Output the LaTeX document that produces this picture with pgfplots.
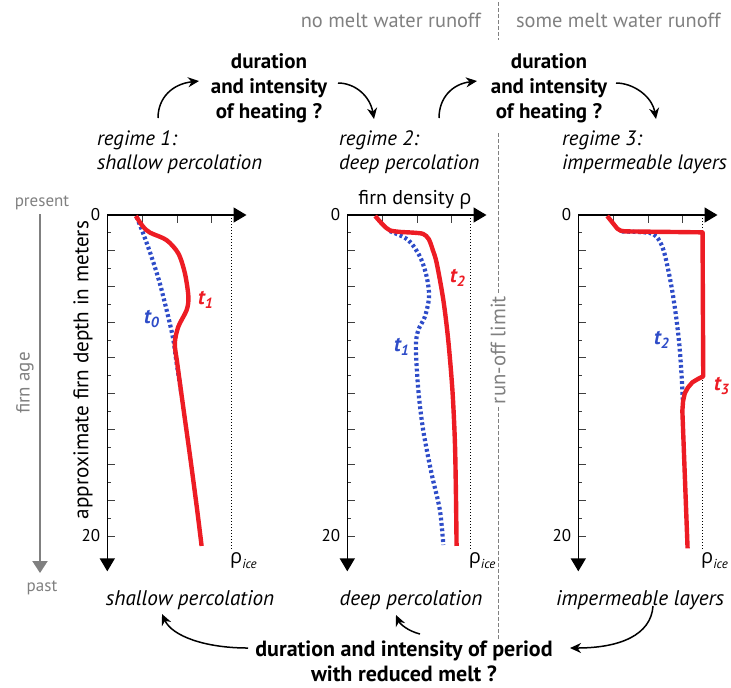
\documentclass[border=0pt]{standalone}
\usepackage{fontspec}
\setmainfont{PT Sans}
\newfontfamily\grk{Open Sans}
\usepackage{pgfplots}
\pgfplotsset{compat=1.18}
\usetikzlibrary{arrows.meta}

\definecolor{cred}{RGB}{237,28,36}
\definecolor{cblue}{RGB}{46,76,200}
\definecolor{cgray}{RGB}{128,128,128}
\newcommand{\fs}[1]{\fontsize{#1}{#1}\selectfont}
\newcommand{\rhoice}{{\fs{10}\grk ρ}\raisebox{-0.5ex}{\fs{6.5}\itshape ice}}

% one panel = one depth profile, depth axis pointing down
\pgfplotsset{
  panel/.style={
    anchor=origin,
    x=17.4pt, y=8.025pt, y dir=reverse,
    xmin=0, xmax=4, ymin=0, ymax=22.2,
    axis x line*=top, axis y line*=left,
    axis line style={line width=0.8pt, -{Triangle[length=6.5pt,width=7.5pt]}},
    clip=false,
    tick align=inside,
    xtick={1,2,3}, xticklabels={},
    ytick={0,2.2222,4.4444,6.6667,8.8889,11.1111,13.3333,15.5556,17.7778,20},
    yticklabels={0,,,,,,,,,20},
    minor ytick={1.1111,3.3333,5.5556,7.7778,10,12.2222,14.4444,16.6667,18.8889},
    major tick length=4pt, minor tick length=2pt,
    tick style={line width=0.35pt, black!75},
    yticklabel style={font=\fs{8.5}},
  },
  old/.style={cblue, line width=2.1pt, dash pattern=on 1.4pt off 1.3pt, smooth, tension=0.5},
  new/.style={cred, line width=2.2pt, smooth, tension=0.5, line join=round},
  ice/.style={black, densely dotted, line width=0.5pt},
}

\begin{document}
\begin{tikzpicture}[x=0.5pt,y=-0.5pt]
\path[use as bounding box] (0,0) rectangle (731,687);

% ---- regime 1
\begin{axis}[panel, at={(53.65pt,-107.5pt)}]
  \addplot[ice] coordinates {(3.57,0) (3.57,20.9)};
  \addplot[old] coordinates {(0.84,0.1) (1.03,1.14) (1.27,2.6) (1.51,4.26) (1.75,6.33) (1.90,7.79) (1.99,9.2) (2.12,11.0)};
  \addplot[new] coordinates {(0.82,0.06) (1.03,0.73) (1.23,1.10) (1.70,1.56) (2.04,2.39) (2.23,3.63) (2.33,5.09) (2.28,5.92) (2.04,6.96) (1.94,8.0) (2.01,9.24) (2.18,11.94) (2.38,15.06) (2.57,18.17) (2.71,20.62)};
  \node[anchor=north west, inner sep=0pt] at (axis cs:3.52,21.0) {\rhoice};
\end{axis}

% ---- regime 2
\begin{axis}[panel, at={(173.65pt,-107.5pt)}]
  \addplot[ice] coordinates {(3.53,0) (3.53,20.9)};
  \addplot[old] coordinates {(1.22,1.0) (1.75,1.56) (2.09,2.60) (2.28,3.84) (2.35,5.09) (2.23,6.33) (2.04,7.17) (1.97,8.20) (2.04,10.90) (2.18,13.40) (2.42,16.10) (2.66,18.38) (2.76,20.56)};
  \addplot[new] coordinates {(0.80,0.06) (1.03,0.62) (1.22,0.95) (1.50,1.05) (1.90,1.1) (2.18,1.18) (2.34,1.5) (2.46,2.2) (2.57,3.01) (2.76,5.30) (2.90,7.79) (3.02,10.90) (3.09,14.02) (3.12,17.13) (3.14,20.62)};
  \node[anchor=north west, inner sep=0pt] at (axis cs:3.48,21.0) {\rhoice};
\end{axis}

% ---- regime 3
\begin{axis}[panel, at={(289.15pt,-107.5pt)}]
  \addplot[ice] coordinates {(3.57,0) (3.57,20.9)};
  \addplot[old] coordinates {(1.25,1.02) (1.70,1.06) (2.06,1.12) (2.25,1.35) (2.40,1.9) (2.50,2.6) (2.62,3.8) (2.72,5.0) (2.82,6.5) (2.90,8.0) (2.95,9.4) (2.98,10.5) (3.0,11.5)};
  \addplot[cred, line width=2.2pt, line join=round] coordinates {(0.83,0.06) (1.12,0.85) (1.22,0.98) (1.35,1.02) (3.57,1.08) (3.59,10.05) (3.45,10.2) (3.28,10.42) (3.15,10.75) (3.06,11.1) (3.01,11.6) (2.99,12.2) (3.14,20.77)};
  \node[anchor=north west, inner sep=0pt] at (axis cs:3.52,21.0) {\rhoice};
\end{axis}

% ---- curve labels
\node[cred, font=\fs{10.5}\bfseries\itshape] at (206,300) {t\textsubscript{1}};
\node[cblue, font=\fs{10.5}\bfseries\itshape] at (152,319) {t\textsubscript{0}};
\node[cred, font=\fs{10.5}\bfseries\itshape] at (458,278) {t\textsubscript{2}};
\node[cblue, font=\fs{10.5}\bfseries\itshape] at (402,347) {t\textsubscript{1}};
\node[cblue, font=\fs{10.5}\bfseries\itshape] at (662,340) {t\textsubscript{2}};
\node[cred, font=\fs{10.5}\bfseries\itshape] at (722,386) {t\textsubscript{3}};

% ---- run-off limit
\node[cgray, font=\fs{10.2}, anchor=east] at (488,20) {no melt water runoff};
\node[cgray, font=\fs{10.2}, anchor=west] at (509,20) {some melt water runoff};
\draw[cgray, line width=0.5pt, dash pattern=on 2pt off 1pt] (498,2) -- (498,40);
\draw[cgray, line width=0.5pt, dash pattern=on 2pt off 1pt] (498,133) -- (498,294);
\draw[cgray, line width=0.5pt, dash pattern=on 2pt off 1pt] (498,407) -- (498,640);
\node[cgray, rotate=90, font=\fs{10.4}] at (498,350) {run-off limit};

% ---- top: regimes and heating
\node[font=\fontsize{10.5}{12.5}\selectfont\bfseries, align=center] at (269,88) {duration\\and intensity\\of heating ?};
\node[font=\fontsize{10.5}{12.5}\selectfont\bfseries, align=center] at (549,88) {duration\\and intensity\\of heating ?};
\node[anchor=west, font=\fontsize{10.4}{12}\selectfont\itshape, align=left] at (90,152) {regime 1:\\shallow percolation};
\node[anchor=west, font=\fontsize{10.4}{12}\selectfont\itshape, align=left] at (332,152) {regime 2:\\deep percolation};
\node[anchor=west, font=\fontsize{10.4}{12}\selectfont\itshape, align=left] at (555,152) {regime 3:\\impermeable layers};
\begin{scope}[line width=0.75pt, -{Stealth[length=5.5pt,width=5pt]}]
  \draw (158,118) .. controls (158,98) and (172,84) .. (199,81);
  \draw (338,83) .. controls (355,83) and (370,96) .. (374,119);
  \draw (439,118) .. controls (439,98) and (452,84) .. (477,81);
  \draw (616,83) .. controls (633,83) and (652,96) .. (656,119);
\end{scope}

% ---- left: age and depth
\node[cgray, font=\fs{8.5}] at (42,203) {present};
\draw[cgray, line width=1pt, -{Triangle[length=6pt,width=7.5pt]}] (40,214) -- (40,573);
\node[cgray, font=\fs{9.5}, rotate=90] at (25,383) {firn age};
\node[cgray, font=\fs{8.5}] at (42,588) {past};
\node[font=\fs{10.6}, rotate=90] at (83,370) {approximate firn depth in meters};
\node[font=\fs{10}] at (415,200) {firn density {\grk ρ}};

% ---- bottom: reduced melt
\node[font=\fs{10.6}\itshape] at (190,600) {shallow percolation};
\node[font=\fs{10.6}\itshape] at (411,600) {deep percolation};
\node[font=\fs{10.6}\itshape] at (640,600) {impermeable layers};
\node[font=\fontsize{11}{12.5}\selectfont\bfseries, align=center] at (404,661) {duration and intensity of period\\with reduced melt ?};
\begin{scope}[line width=0.75pt, -{Stealth[length=5.5pt,width=5pt]}]
  \draw (248,648) .. controls (205,648) and (172,636) .. (162,614);
  \draw (420,634) .. controls (408,631) and (400,624) .. (396,615);
  \draw (653,606) .. controls (651,635) and (620,648) .. (570,648);
\end{scope}
\end{tikzpicture}
\end{document}
